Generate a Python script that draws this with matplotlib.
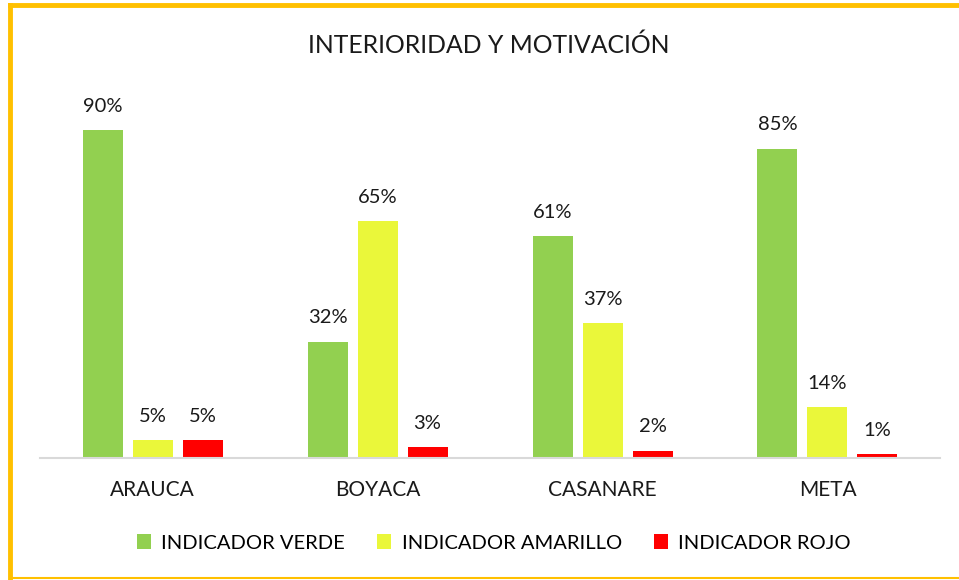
import matplotlib.pyplot as plt
import numpy as np

plt.rcParams["font.family"] = ["Lato", "DejaVu Sans"]

categories = ["ARAUCA", "BOYACA", "CASANARE", "META"]
series = ["INDICADOR VERDE", "INDICADOR AMARILLO", "INDICADOR ROJO"]
verde = [90, 32, 61, 85]
amarillo = [5, 65, 37, 14]
rojo = [5, 3, 2, 1]
colors = ["#92D050", "#EAF73A", "#FF0000"]

fig = plt.figure(figsize=(9.59, 5.8), dpi=100)
ax = fig.add_axes([40 / 959, 122 / 580, 900 / 959, 364 / 580])

x = np.arange(len(categories))
width = 40 / 225
step = 50 / 225
for i, (vals, name, c) in enumerate(zip([verde, amarillo, rojo], series, colors)):
    bars = ax.bar(x + (i - 1) * step, vals, width, color=c, label=name)
    for b, v in zip(bars, vals):
        ax.annotate(f"{v}%", (b.get_x() + b.get_width() / 2, v),
                    xytext=(0, 11), textcoords="offset points",
                    ha="center", va="bottom", fontsize=14.5, color="#1a1a1a")

ax.set_xlim(-0.5, 3.5)
ax.set_ylim(0, 100)
for s in ["top", "right", "left"]:
    ax.spines[s].set_visible(False)
ax.spines["bottom"].set_color("#D9D9D9")
ax.spines["bottom"].set_linewidth(1.5)
ax.set_yticks([])
ax.set_xticks(x)
ax.set_xticklabels(categories, fontsize=15, color="#1a1a1a")
ax.tick_params(axis="x", length=0, pad=16)

fig.text(489 / 959, 1 - 45 / 580, "INTERIORIDAD Y MOTIVACIÓN", ha="center", va="center",
         fontsize=17.8, color="#1a1a1a")

fig.legend(loc="center", bbox_to_anchor=(494 / 959, 1 - 543 / 580), ncol=3,
           frameon=False, fontsize=14.5, handlelength=0.7, handleheight=0.7,
           columnspacing=1.6, handletextpad=0.5)

# marco amarillo
fig.add_artist(plt.Line2D([10 / 959, 10 / 959], [2 / 580, 1 - 5 / 580],
                          transform=fig.transFigure, color="#FFC000", lw=3.5,
                          solid_capstyle="projecting"))
fig.add_artist(plt.Line2D([10 / 959, 1], [1 - 5 / 580, 1 - 5 / 580],
                          transform=fig.transFigure, color="#FFC000", lw=3.5,
                          solid_capstyle="projecting"))
fig.add_artist(plt.Line2D([10 / 959, 1], [2 / 580, 2 / 580],
                          transform=fig.transFigure, color="#FFC000", lw=1.5))

plt.savefig("out.png", dpi=100)
